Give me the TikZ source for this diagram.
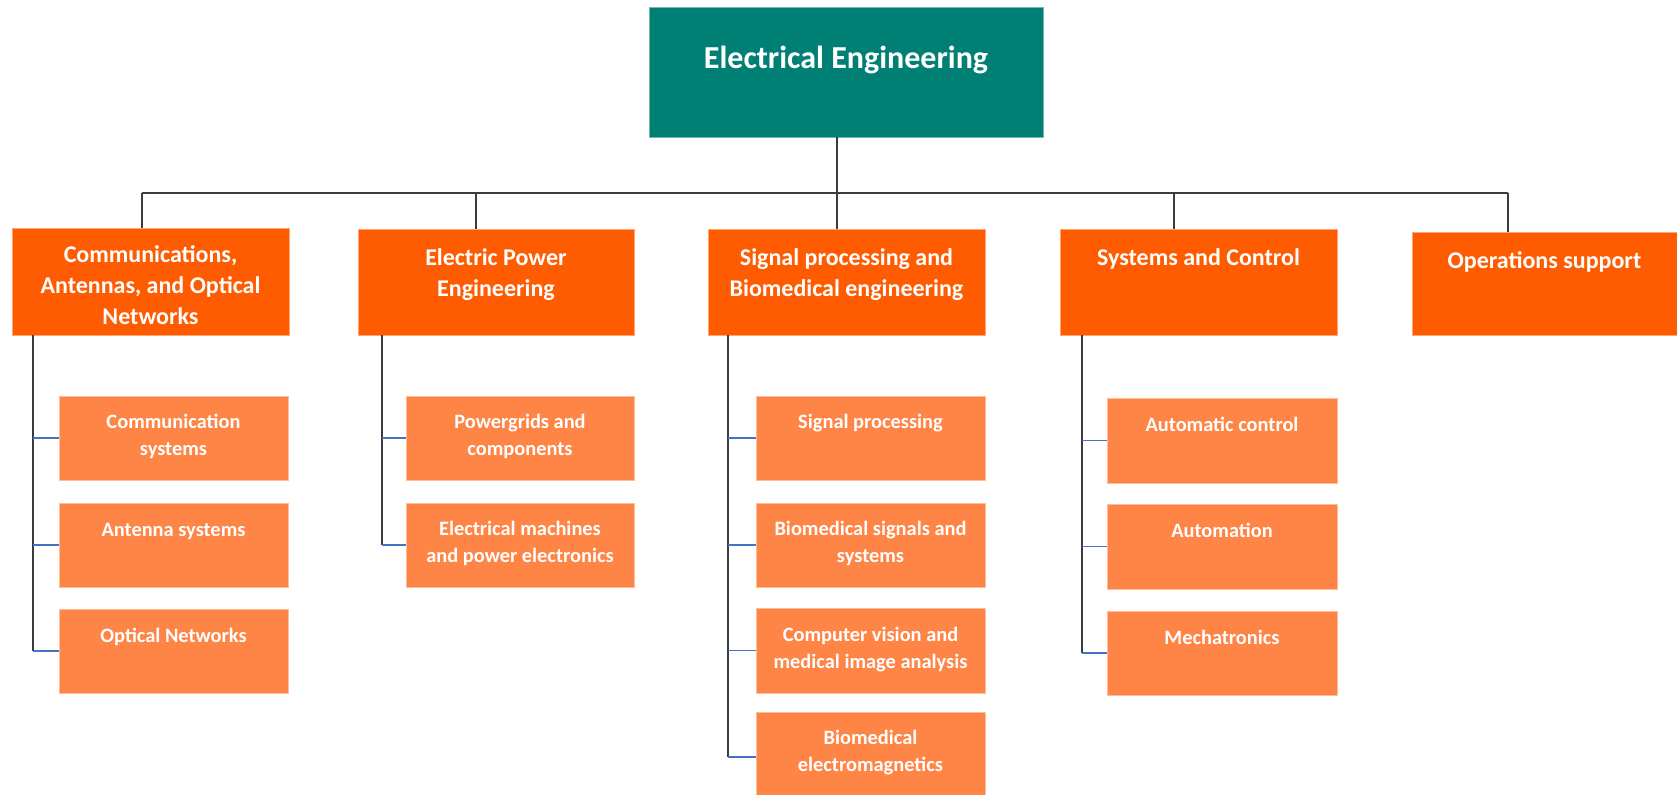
\documentclass[tikz,border=0pt]{standalone}
\usepackage{fontspec}
\setmainfont{Carlito}
\usetikzlibrary{fit}

\definecolor{eeteal}{RGB}{0,128,117}
\definecolor{areaorange}{RGB}{255,91,0}
\definecolor{topicorange}{RGB}{255,133,70}
\definecolor{tickblue}{RGB}{68,114,196}
\definecolor{linegray}{RGB}{60,60,60}

\tikzset{
  root/.style={fill=eeteal, draw=eeteal!55!white, line width=0.4pt, inner sep=0pt},
  area/.style={fill=areaorange, draw=areaorange!55!white, line width=0.4pt, inner sep=0pt},
  topic/.style={fill=topicorange, draw=topicorange!55!white, line width=0.4pt, inner sep=0pt},
  rootlabel/.style={text=white, anchor=base, inner sep=0pt, font=\fontsize{16}{19}\selectfont\bfseries},
  arealabel/.style={text=white, anchor=north, inner sep=0pt, align=center,
    font=\fontsize{12}{15.5}\selectfont\bfseries, execute at begin node=\strut},
  topiclabel/.style={text=white, anchor=north, inner sep=0pt, align=center,
    font=\fontsize{10.2}{13.5}\selectfont\bfseries, execute at begin node=\strut},
  link/.style={draw=linegray, line width=0.75pt},
  tick/.style={draw=tickblue, line width=0.6pt}
}

\begin{document}
\begin{tikzpicture}[x=0.5pt, y=-0.5pt]
  \useasboundingbox (0,0) rectangle (1677,794);

  % root
  \node[root, fit={(649,7) (1043,137)}] (ee) {};
  \node[rootlabel] (ee-t) at ([yshift=-31pt]ee.north) {Electrical Engineering};

  % areas
  \node[area, fit={(12,228) (289,335)}] (comm) {};
  \node[arealabel] (comm-t) at ([yshift=-8.6pt]comm.north) {Communications,\\Antennas, and Optical\\Networks};
  \node[area, fit={(358,229) (634,335)}] (power) {};
  \node[arealabel] (power-t) at ([yshift=-10pt]power.north) {Electric Power\\Engineering};
  \node[area, fit={(708,229) (985,335)}] (sigbio) {};
  \node[arealabel] (sigbio-t) at ([yshift=-10pt]sigbio.north) {Signal processing and\\Biomedical engineering};
  \node[area, fit={(1060,229) (1337,335)}] (sysctl) {};
  \node[arealabel] (sysctl-t) at ([yshift=-7.2pt]sysctl.north) {Systems and Control};
  \node[area, fit={(1412,232) (1677,335)}] (ops) {};
  \node[arealabel] (ops-t) at ([yshift=-7.5pt]ops.north) {Operations support};

  % topics
  \node[topic, fit={(59,396) (288,480)}] (cs) {};
  \node[topiclabel] (cs-t) at ([yshift=-9.2pt]cs.north) {Communication\\systems};
  \node[topic, fit={(59,503) (288,587)}] (ant) {};
  \node[topiclabel] (ant-t) at ([yshift=-7.4pt]ant.north) {Antenna systems};
  \node[topic, fit={(59,609) (288,693)}] (opt) {};
  \node[topiclabel] (opt-t) at ([yshift=-7.4pt]opt.north) {Optical Networks};

  \node[topic, fit={(406,396) (634,480)}] (grid) {};
  \node[topiclabel] (grid-t) at ([yshift=-9.2pt]grid.north) {Powergrids and\\components};
  \node[topic, fit={(406,503) (634,587)}] (mach) {};
  \node[topiclabel] (mach-t) at ([yshift=-9.2pt]mach.north) {Electrical machines\\and power electronics};

  \node[topic, fit={(756,396) (985,480)}] (sp) {};
  \node[topiclabel] (sp-t) at ([yshift=-7pt]sp.north) {Signal processing};
  \node[topic, fit={(756,503) (985,587)}] (bss) {};
  \node[topiclabel] (bss-t) at ([yshift=-9.2pt]bss.north) {Biomedical signals and\\systems};
  \node[topic, fit={(756,608) (985,693)}] (cv) {};
  \node[topiclabel] (cv-t) at ([yshift=-9.6pt]cv.north) {Computer vision and\\medical image analysis};
  \node[topic, fit={(756,712) (985,802)}] (bem) {};
  \node[topiclabel] (bem-t) at ([yshift=-9.2pt]bem.north) {Biomedical\\electromagnetics};

  \node[topic, fit={(1107,398) (1337,483)}] (ac) {};
  \node[topiclabel] (ac-t) at ([yshift=-7.2pt]ac.north) {Automatic control};
  \node[topic, fit={(1107,504) (1337,589)}] (auto) {};
  \node[topiclabel] (auto-t) at ([yshift=-7.2pt]auto.north) {Automation};
  \node[topic, fit={(1107,611) (1337,695)}] (mech) {};
  \node[topiclabel] (mech-t) at ([yshift=-7.4pt]mech.north) {Mechatronics};

  % bus from root to areas
  \coordinate (busL) at (142,193);
  \coordinate (busR) at (1508,193);
  \draw[link] (ee.south -| 837,0) -- (837,193);
  \draw[link] (busL) -- (busR);
  \foreach \a/\x in {comm/142, power/476, sigbio/837, sysctl/1174, ops/1508}
    \draw[link] (\x,193) -- (\a.north -| \x,0);

  % spines down to topics
  \foreach \a/\x/\last in {comm/33/opt, power/382/mach, sigbio/728/bem, sysctl/1082/mech}
    \draw[link] (\a.south -| \x,0) -- (\last.west -| \x,0);
  \foreach \b/\x in {cs/33, ant/33, opt/33, grid/382, mach/382, sp/728, bss/728, cv/728, bem/728, ac/1082, auto/1082, mech/1082}
    \draw[tick] (\b.west -| \x,0) -- (\b.west);
\end{tikzpicture}
\end{document}
